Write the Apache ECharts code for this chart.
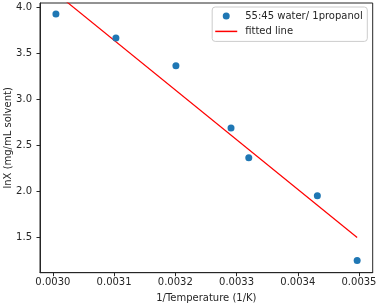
<!DOCTYPE html>
<html><head><meta charset="utf-8">
<script src="https://cdn.jsdelivr.net/npm/echarts@6/dist/echarts.min.js"></script>
<style>html,body{margin:0;padding:0;background:#fff}#c{width:377px;height:306px}</style>
</head><body><div id="c"></div>
<script>
const invTemp = [0.003005, 0.003103, 0.003201, 0.003291, 0.003320, 0.003432, 0.003497];
const lnX = [3.927, 3.666, 3.364, 2.685, 2.362, 1.948, 1.244];
const fitX = [0.003005, 0.003497];
const fitY = [4.155, 1.495];
const xTicks = [0.0030, 0.0031, 0.0032, 0.0033, 0.0034, 0.0035];
const yTicks = [1.5, 2.0, 2.5, 3.0, 3.5, 4.0];
const seriesNames = ['55:45 water/ 1propanol', 'fitted line'];

const font = 'DejaVu Sans';
const chart = echarts.init(document.getElementById('c'));
chart.setOption({
  animation: false,
  textStyle: {fontFamily: font},
  grid: {left: 40, top: 3, right: 4.3, bottom: 33.3, show: true, borderColor: '#262626', borderWidth: 1,
    containLabel: false, outerBoundsMode: 'none'},
  xAxis: {
    type: 'value', min: 0.002979, max: 0.0035224,
    name: '1/Temperature (1/K)', nameLocation: 'middle', nameGap: 20.5, nameMoveOverlap: false,
    nameTextStyle: {fontSize: 10, color: '#262626', fontFamily: font},
    splitLine: {show: false},
    axisLine: {show: true, lineStyle: {color: '#262626'}},
    axisTick: {show: true, length: 3.5, lineStyle: {color: '#262626'}, customValues: xTicks},
    axisLabel: {fontSize: 10, color: '#262626', margin: 5, fontFamily: font, customValues: xTicks,
      formatter: v => v.toFixed(4)}
  },
  yAxis: {
    type: 'value', min: 1.111, max: 4.047,
    name: 'lnX (mg/mL solvent)', nameLocation: 'middle', nameGap: 32, nameMoveOverlap: false,
    nameTextStyle: {fontSize: 10, color: '#262626', fontFamily: font, verticalAlign: 'middle'},
    splitLine: {show: false},
    axisLine: {show: true, lineStyle: {color: '#262626'}},
    axisTick: {show: true, length: 3.5, lineStyle: {color: '#262626'}, customValues: yTicks},
    axisLabel: {fontSize: 10, color: '#262626', margin: 8, fontFamily: font, customValues: yTicks,
      formatter: v => v.toFixed(1)}
  },
  legend: {
    orient: 'vertical', right: 9.7, top: 7,
    data: [
      {name: seriesNames[0], icon: 'circle'},
      {name: seriesNames[1], itemStyle: {opacity: 0}, lineStyle: {color: '#ff0000', width: 1.5}}
    ],
    itemWidth: 22, itemHeight: 7, itemGap: 3.4,
    padding: [3, 4.6, 4, 2.3],
    borderColor: '#cccccc', borderWidth: 1, borderRadius: 3,
    textStyle: {fontSize: 10, lineHeight: 12, color: '#262626', fontFamily: font, padding: [0, 0, 0, 3]}
  },
  series: [
    {
      name: seriesNames[0], type: 'scatter', symbolSize: 7,
      itemStyle: {color: '#1f77b4', opacity: 1},
      data: invTemp.map((x, i) => [x, lnX[i]]), z: 3
    },
    {
      name: seriesNames[1], type: 'line', symbol: 'none', clip: true,
      lineStyle: {color: '#ff0000', width: 1.2},
      itemStyle: {color: '#ff0000'},
      data: fitX.map((x, i) => [x, fitY[i]]), z: 2
    }
  ]
});
</script></body></html>
